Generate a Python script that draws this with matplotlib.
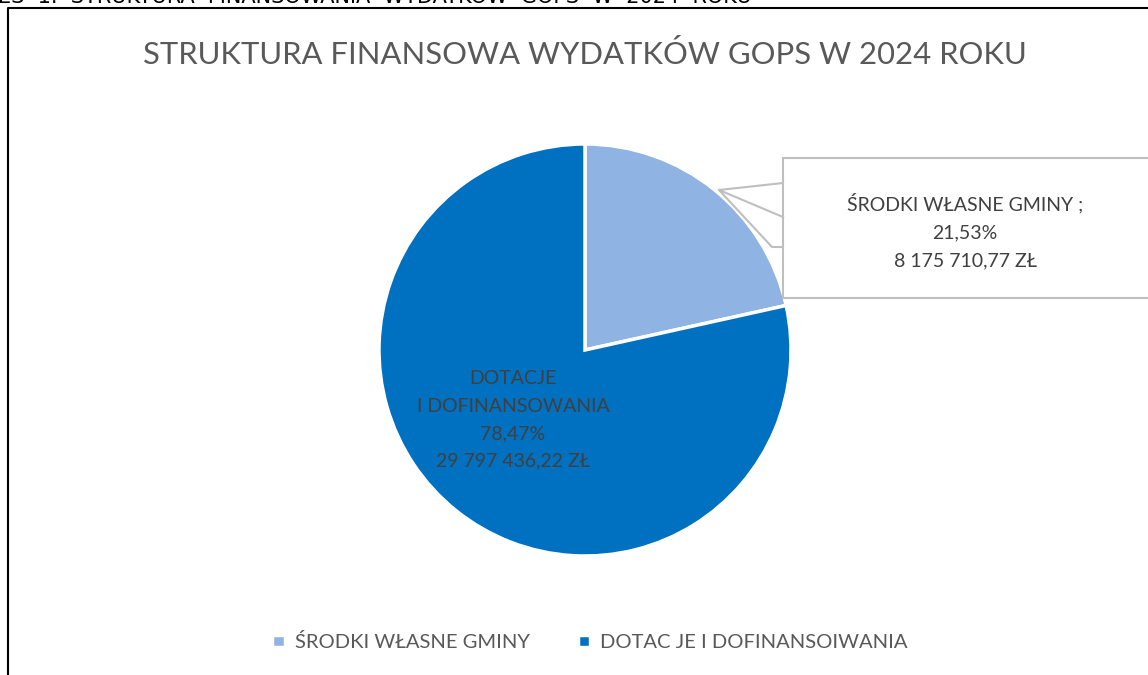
import matplotlib.pyplot as plt
from matplotlib.patches import Rectangle

plt.rcParams['font.family'] = ['Lato', 'DejaVu Sans']

categories = ["ŚRODKI WŁASNE GMINY", "DOTACJE\nI DOFINANSOWANIA"]
legend_labels = ["ŚRODKI WŁASNE GMINY", "DOTAC JE I DOFINANSOIWANIA"]
values = [8175710.77, 29797436.22]
colors = ["#8FB3E2", "#0070C0"]
title = "STRUKTURA FINANSOWA WYDATKÓW GOPS W 2024 ROKU"
caption = "ES  1.  STRUKTURA  FINANSOWANIA  WYDATKÓW  GOPS  W  2024  ROKU"

W, H = 1148, 675


def pln(v):
    s = f"{v:,.2f}".replace(",", " ").replace(".", ",")
    return s + " ZŁ"


def pct(v):
    return f"{v / sum(values) * 100:.2f}%".replace(".", ",")


fig = plt.figure(figsize=(W / 100, H / 100), dpi=100)
ax = fig.add_axes([0, 0, 1, 1])
ax.set_xlim(0, W)
ax.set_ylim(0, H)
ax.axis("off")

# caption of the page, cut by the top edge as in the source
ax.text(-2, H + 3, caption, fontsize=15, color="black", ha="left", va="center",
        family="DejaVu Sans")

# chart frame
ax.plot([8, 8, W + 5], [-5, H - 8, H - 8], color="black", lw=1.5)

ax.text(585, H - 55, title, fontsize=22.3, color="#595959", ha="center", va="center")

wedges, _ = ax.pie(values, colors=colors, startangle=90, counterclock=False,
                   center=(585, H - 350), radius=206,
                   wedgeprops=dict(edgecolor="white", linewidth=2.5))
ax.set_xlim(0, W)
ax.set_ylim(0, H)
ax.set_aspect("auto")

# inner label
ax.text(513, H - 420, f"{categories[1]}\n{pct(values[1])}\n{pln(values[1])}",
        fontsize=14, color="#404040", ha="center", va="center", linespacing=1.75)

# callout box for the small slice
grey = "#BFBFBF"
ax.add_patch(Rectangle((783, H - 298), 400, 140, facecolor="white",
                       edgecolor=grey, lw=1.5, zorder=3))
ax.plot([783, 719, 783], [H - 183, H - 190, H - 217], color=grey, lw=1.5, zorder=4)
ax.plot([719, 772, 783], [H - 190, H - 247, H - 247], color=grey, lw=1.5, zorder=4)
ax.text(965, H - 231, f"{categories[0]} ;\n{pct(values[0])}\n{pln(values[0])}",
        fontsize=14, color="#404040", ha="center", va="center",
        linespacing=1.8, zorder=5)

# legend
leg = ax.legend(wedges, legend_labels, loc="center", bbox_to_anchor=(590 / W, 1 - 642 / H),
                ncol=2, frameon=False, fontsize=14.5, handlelength=0.6, handleheight=0.6,
                handletextpad=0.5, columnspacing=2.4, labelcolor="#595959")

fig.savefig("out.png", dpi=100)
